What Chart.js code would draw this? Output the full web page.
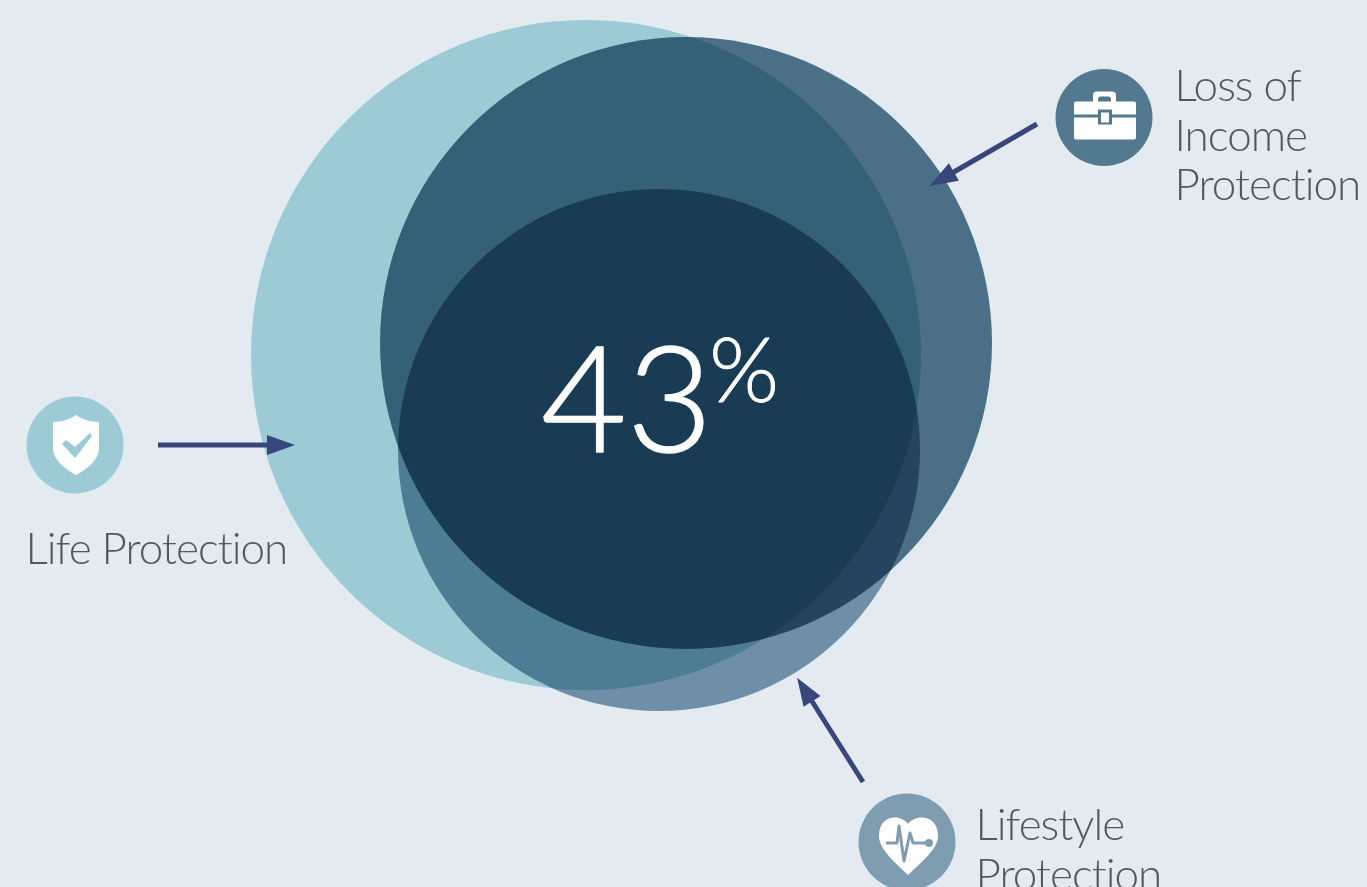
<!DOCTYPE html>
<html>
<head>
<meta charset="utf-8">
<title>Protection coverage</title>
<script src="https://cdn.jsdelivr.net/npm/chart.js@4"></script>
<style>
    html, body { margin: 0; padding: 0; background: #e3eaf0; overflow: hidden; }
    canvas { display: block; }
</style>
</head>
<body>
<canvas id="myChart" width="1367" height="887"></canvas>
<script>
const labels = ['Life Protection', 'Loss of Income Protection', 'Lifestyle Protection'];

// big overlapping circles, multiplied over each other
const circleX = [586, 686, 659];
const circleY = [355, 343, 450];
const circleR = [335, 306, 261];
const circleColors = ['rgb(175, 221, 227)', 'rgb(84, 121, 144)', 'rgb(125, 156, 179)'];

// small icon discs
const iconX = [75, 1104, 907];
const iconY = [445, 117.5, 842];
const iconR = [48.5, 48.5, 48.5];
const iconColors = ['#9ccbd6', '#52798f', '#7f9db1'];

// arrow shafts: tail then neck, the head continues past the neck
const arrowX = [[158, 268], [1037, 953], [863, 811.5]];
const arrowY = [[445, 445], [124, 172.5], [782, 700.5]];

const centerValue = '43';
const centerUnit = '%';

const labelLines = [['Life Protection'], ['Loss of', 'Income', 'Protection'], ['Lifestyle', 'Protection']];
const labelX = [25.5, 1174.5, 975.5];
const labelY = [564, 101, 840];

const backgroundColor = '#e3eaf0';
const arrowColor = '#37477a';
const textColor = '#55585b';
const fontFamily = 'Lato, "Open Sans", sans-serif';

function toPoints(xs, ys) {
    return xs.map((x, i) => ({ x: x, y: ys[i] }));
}

const datasets = [];

iconX.forEach(function (x, i) {
    datasets.push({
        type: 'bubble',
        label: labels[i] + ' icon',
        data: [{ x: x, y: iconY[i], r: iconR[i] }],
        backgroundColor: iconColors[i],
        borderWidth: 0,
        order: 1
    });
});

arrowX.forEach(function (xs, i) {
    datasets.push({
        type: 'line',
        label: labels[i] + ' arrow',
        data: toPoints(xs, arrowY[i]),
        borderColor: arrowColor,
        borderWidth: 5,
        pointRadius: 0,
        order: 2
    });
});

circleX.forEach(function (x, i) {
    datasets.push({
        type: 'bubble',
        label: labels[i],
        data: [{ x: x, y: circleY[i], r: circleR[i] }],
        backgroundColor: circleColors[i],
        borderWidth: 0,
        blend: 'multiply',
        order: 5 - i
    });
});

function drawBriefcase(ctx, cx, cy, color) {
    ctx.fillStyle = '#fff';
    // handle
    ctx.beginPath();
    ctx.roundRect(cx - 11, cy - 26, 23, 14, 4);
    ctx.fill();
    ctx.fillStyle = color;
    ctx.beginPath();
    ctx.roundRect(cx - 6, cy - 21, 13, 8, 3);
    ctx.fill();
    // body
    ctx.fillStyle = '#fff';
    ctx.beginPath();
    ctx.roundRect(cx - 30, cy - 16, 62, 38, 2);
    ctx.fill();
    // strap and clasp
    ctx.fillStyle = color;
    ctx.fillRect(cx - 30, cy - 3, 62, 3);
    ctx.fillRect(cx - 6, cy - 8, 14, 15);
    ctx.fillStyle = '#fff';
    ctx.fillRect(cx - 3, cy - 5, 8, 10);
}

function drawShield(ctx, cx, cy, color) {
    ctx.fillStyle = '#fff';
    ctx.beginPath();
    ctx.moveTo(cx + 1, cy - 30);
    ctx.quadraticCurveTo(cx - 8, cy - 23, cx - 22, cy - 23);
    ctx.lineTo(cx - 22, cy + 4);
    ctx.quadraticCurveTo(cx - 21, cy + 18, cx + 1, cy + 30);
    ctx.quadraticCurveTo(cx + 23, cy + 18, cx + 24, cy + 4);
    ctx.lineTo(cx + 24, cy - 23);
    ctx.quadraticCurveTo(cx + 10, cy - 23, cx + 1, cy - 30);
    ctx.fill();
    // check mark
    ctx.fillStyle = color;
    ctx.beginPath();
    ctx.moveTo(cx - 13, cy - 1);
    ctx.lineTo(cx - 9, cy - 5);
    ctx.lineTo(cx, cy + 2);
    ctx.lineTo(cx + 15, cy - 12);
    ctx.lineTo(cx + 17, cy - 9);
    ctx.lineTo(cx, cy + 13);
    ctx.closePath();
    ctx.fill();
}

function drawHeart(ctx, cx, cy, color) {
    ctx.fillStyle = '#fff';
    ctx.beginPath();
    ctx.moveTo(cx + 1, cy - 18);
    ctx.bezierCurveTo(cx - 6, cy - 28, cx - 28, cy - 28, cx - 28, cy - 6);
    ctx.bezierCurveTo(cx - 28, cy + 8, cx - 10, cy + 22, cx + 1, cy + 33);
    ctx.bezierCurveTo(cx + 12, cy + 22, cx + 31, cy + 8, cx + 31, cy - 6);
    ctx.bezierCurveTo(cx + 31, cy - 28, cx + 8, cy - 28, cx + 1, cy - 18);
    ctx.fill();
    // pulse line
    ctx.strokeStyle = color;
    ctx.fillStyle = color;
    ctx.lineWidth = 3;
    ctx.lineJoin = 'round';
    ctx.beginPath();
    ctx.moveTo(cx - 21, cy + 1);
    ctx.lineTo(cx - 10, cy + 1);
    ctx.lineTo(cx - 8, cy - 16);
    ctx.lineTo(cx - 3, cy + 19);
    ctx.lineTo(cx + 3, cy - 9);
    ctx.lineTo(cx + 6, cy + 1);
    ctx.lineTo(cx + 21, cy + 1);
    ctx.stroke();
    ctx.beginPath();
    ctx.arc(cx + 22, cy + 1, 4, 0, Math.PI * 2);
    ctx.fill();
}

const iconDrawers = [drawShield, drawBriefcase, drawHeart];

// multiply needs something opaque underneath, so paint the page colour first
const blendPlugin = {
    id: 'blend',
    beforeDraw: function (chart) {
        chart.ctx.save();
        chart.ctx.fillStyle = backgroundColor;
        chart.ctx.fillRect(0, 0, chart.width, chart.height);
        chart.ctx.restore();
    },
    beforeDatasetDraw: function (chart, args) {
        chart.ctx.globalCompositeOperation = chart.data.datasets[args.index].blend || 'source-over';
    },
    afterDatasetDraw: function (chart) {
        chart.ctx.globalCompositeOperation = 'source-over';
    }
};

// arrow heads, icon glyphs and all the text go on after the datasets
const overlayPlugin = {
    id: 'overlay',
    afterDraw: function (chart) {
        const ctx = chart.ctx;
        const sx = chart.scales.x;
        const sy = chart.scales.y;

        ctx.save();

        arrowX.forEach(function (xs, i) {
            const neckX = sx.getPixelForValue(xs[1]);
            const neckY = sy.getPixelForValue(arrowY[i][1]);
            const angle = Math.atan2(neckY - sy.getPixelForValue(arrowY[i][0]), neckX - sx.getPixelForValue(xs[0]));
            ctx.save();
            ctx.translate(neckX, neckY);
            ctx.rotate(angle);
            ctx.fillStyle = arrowColor;
            ctx.beginPath();
            ctx.moveTo(27, 0);
            ctx.lineTo(-1, -10);
            ctx.lineTo(-1, 10);
            ctx.closePath();
            ctx.fill();
            ctx.restore();
        });

        iconX.forEach(function (x, i) {
            iconDrawers[i](ctx, sx.getPixelForValue(x), sy.getPixelForValue(iconY[i]), iconColors[i]);
        });

        ctx.textBaseline = 'alphabetic';
        ctx.textAlign = 'left';
        ctx.fillStyle = textColor;
        ctx.font = '300 44px ' + fontFamily;
        ctx.letterSpacing = '-1px';
        labelLines.forEach(function (lines, i) {
            lines.forEach(function (line, j) {
                ctx.fillText(line, sx.getPixelForValue(labelX[i]), sy.getPixelForValue(labelY[i] + j * 49.5));
            });
        });

        ctx.letterSpacing = '0px';
        ctx.fillStyle = '#fff';
        ctx.strokeStyle = '#fff';
        ctx.lineWidth = 1.5;
        ctx.lineJoin = 'round';
        ctx.font = '300 148px ' + fontFamily;
        ctx.fillText(centerValue, sx.getPixelForValue(541), sy.getPixelForValue(452));
        ctx.strokeText(centerValue, sx.getPixelForValue(541), sy.getPixelForValue(452));
        ctx.lineWidth = 0.8;
        ctx.font = '300 90px ' + fontFamily;
        ctx.fillText(centerUnit, sx.getPixelForValue(709), sy.getPixelForValue(402));
        ctx.strokeText(centerUnit, sx.getPixelForValue(709), sy.getPixelForValue(402));

        ctx.restore();
    }
};

const config = {
    type: 'bubble',
    data: { datasets: datasets },
    options: {
        responsive: false,
        animation: false,
        // bubble charts pad the area by their biggest radius otherwise
        layout: { padding: 0, autoPadding: false },
        scales: {
            x: { type: 'linear', min: 0, max: 1367, display: false },
            y: { type: 'linear', min: 0, max: 887, reverse: true, display: false }
        },
        plugins: {
            legend: { display: false },
            tooltip: { enabled: false },
            title: { display: false }
        }
    },
    plugins: [blendPlugin, overlayPlugin]
};

const myChart = new Chart(document.getElementById('myChart'), config);
</script>
</body>
</html>
